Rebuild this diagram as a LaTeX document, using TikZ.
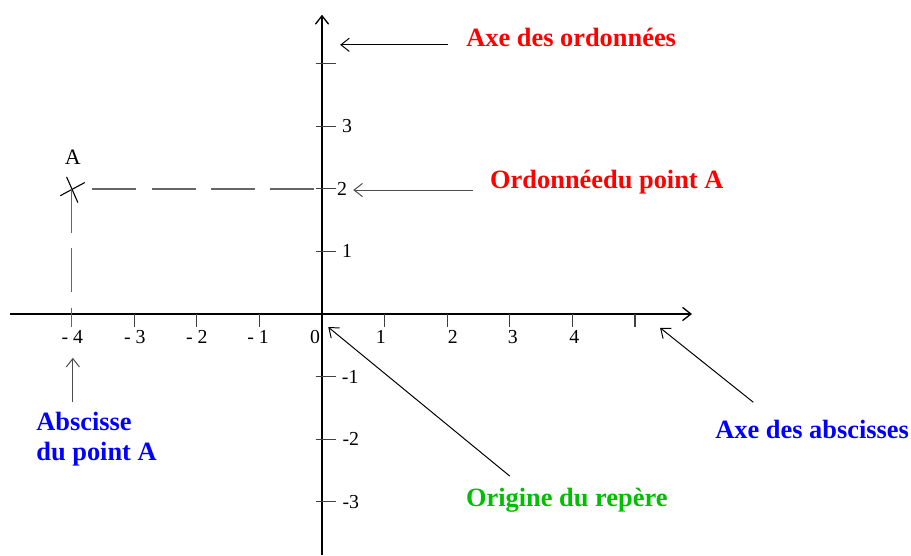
\documentclass[tikz,border=0pt]{standalone}
\usepackage{fontspec}
\setmainfont{Liberation Serif}
\usetikzlibrary{arrows.meta}

\definecolor{rouge}{RGB}{255,0,0}
\definecolor{bleu}{RGB}{0,0,255}
\definecolor{vert}{RGB}{0,190,0}

\begin{document}
\begin{tikzpicture}[
  axe/.style={line width=0.6pt, -{Straight Barb[length=3.8pt,width=6pt]}},
  fleche/.style={line width=0.45pt, -{Straight Barb[length=3.8pt,width=6pt]}},
  graduation/.style={line width=0.5pt, black!75},
  pointille/.style={line width=0.75pt, black!60, dash pattern=on 20pt off 7pt},
  nombre/.style={font=\fontsize{9}{10}\selectfont, inner sep=0pt},
  legende/.style={font=\fontsize{12}{13.8}\selectfont\bfseries, inner sep=0pt}]
  \useasboundingbox (-5.144,-3.866) rectangle (9.409,5.016);
  % axes
  \coordinate (xmin) at (-4.98,0);
  \coordinate (xmax) at (5.91,0);
  \coordinate (ymin) at (0,-3.85);
  \coordinate (ymax) at (0,4.78);
  \draw[axe] (xmin) -- (xmax);
  \draw[axe] (ymin) -- (ymax);
  % graduations
  \foreach \x in {-3,-2,-1,1,2,3,4,5}
    \draw[graduation] (\x,0) -- (\x,-0.2);
  \foreach \y in {-3,-2,-1,1,2,3,4}
    \draw[graduation] (-0.1,\y) -- (0.22,\y);
  \foreach \x/\pos/\txt in {-4/-3.99/{- 4},-3/-2.99/{- 3},-2/-2.0/{- 2},
                            -1/-1.02/{- 1},0/-0.11/0,1/0.94/1,2/2.09/2,3/3.05/3,4/4.03/4}
    \node[nombre] (nx\x) at (\pos,-0.37) {\txt};
  \foreach \y/\pos in {3/0.4,2/0.32,1/0.4,-1/0.45,-2/0.46,-3/0.46}
    \node[nombre] (ny\y) at (\pos,\y) {\y};
  % point A
  \coordinate (A) at (-4,2);
  \draw[line width=0.5pt] (A) ++(-0.18,-0.11) -- ++(0.39,0.21);
  \draw[line width=0.5pt] (A) ++(-0.08,0.19) -- ++(0.18,-0.41);
  \node[font=\fontsize{10}{12}\selectfont, inner sep=0pt] (nomA) at (-3.98,2.5) {A};
  \coordinate (Ah) at (-3.67,2);
  \coordinate (y2) at (0,2);
  \coordinate (x4) at (-4,-0.2);
  \draw[pointille] (Ah) -- (y2);
  \draw[pointille] (A) -- (x4);
  % legendes
  \node[legende, text=rouge] (ordonnees) at (3.98,4.42) {Axe des ordonnées};
  \coordinate (ordo-d) at (2.01,4.30);
  \coordinate (ordo-f) at (0.29,4.30);
  \draw[fleche] (ordo-d) -- (ordo-f);

  \node[legende, text=rouge] (ordA) at (4.55,2.11) {Ordonnéedu point A};
  \coordinate (ordA-d) at (2.41,1.98);
  \coordinate (ordA-f) at (0.5,1.98);
  \draw[fleche, black!70] (ordA-d) -- (ordA-f);

  \node[legende, text=bleu, align=left, anchor=north west] (absA) at (-4.57,-1.56) {Abscisse\\du point A};
  \coordinate (absA-d) at (-3.98,-1.41);
  \coordinate (absA-f) at (-3.98,-0.70);
  \draw[fleche, black!70] (absA-d) -- (absA-f);

  \node[legende, text=vert] (origine) at (3.91,-2.97) {Origine du repère};
  \coordinate (orig-d) at (3.0,-2.59);
  \coordinate (orig-f) at (0.1,-0.21);
  \draw[fleche] (orig-d) -- (orig-f);

  \node[legende, text=bleu] (abscisses) at (7.83,-1.85) {Axe des abscisses};
  \coordinate (absc-d) at (6.89,-1.41);
  \coordinate (absc-f) at (5.4,-0.22);
  \draw[fleche] (absc-d) -- (absc-f);
\end{tikzpicture}
\end{document}
